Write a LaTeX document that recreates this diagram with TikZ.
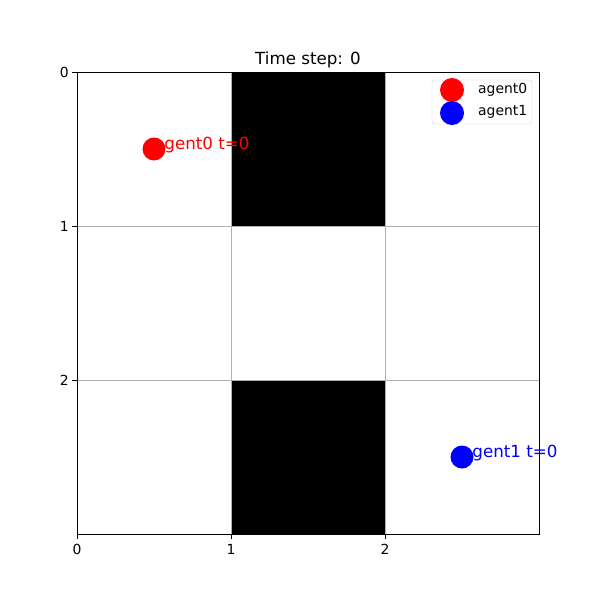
\documentclass[tikz,border=0pt]{standalone}
\usepackage{fontspec}
\setmainfont{DejaVu Sans}
\begin{document}
\begin{tikzpicture}[x=1pt,y=-1pt,
  tick/.style={font=\fontsize{13.9}{16}\selectfont},
  gridline/.style={draw=black!31,line width=0.8pt},
  agentdot/.style={circle,inner sep=0pt,minimum size=23pt},
  lbl/.style={font=\fontsize{16.7}{20}\selectfont,inner sep=0pt,anchor=base west}]
\useasboundingbox (0,0) rectangle (600,600);
\fill[white] (0,0) rectangle (600,600);
% obstacles
\fill[black] (231,72) rectangle (385,226);
\fill[black] (231,380) rectangle (385,534);
% grid
\draw[gridline] (231,72) -- (231,534);
\draw[gridline] (385,72) -- (385,534);
\draw[gridline] (77,226) -- (539,226);
\draw[gridline] (77,380) -- (539,380);
% frame
\draw[line width=0.8pt] (77,72) rectangle (539,534);
% ticks
\foreach \v/\p in {0/77,1/231,2/385}{
  \draw[line width=0.8pt] (\p,534) -- (\p,539);
  \node[tick,anchor=north] (xt\v) at (\p,541) {\v};
}
\foreach \v/\p in {0/72,1/226,2/380}{
  \draw[line width=0.8pt] (77,\p) -- (72,\p);
  \node[tick,anchor=east,inner sep=0pt] (yt\v) at (69,\p) {\v};
}
% title
\node[font=\fontsize{16.7}{20}\selectfont,anchor=base] (title) at (308,64) {Time step: 0};
% agents
\node[lbl,text=red] (t0) at (154,149) {agent0 t=0};
\node[lbl,text=blue] (t1) at (462,457) {agent1 t=0};
\node[agentdot,fill=red] (a0) at (154,149) {};
\node[agentdot,fill=blue] (a1) at (462,457) {};
% legend
\node[draw=black!20,fill=white,rounded corners=3pt,minimum width=100pt,minimum height=44pt,inner sep=0pt] (legend) at (482,102) {};
\node[agentdot,fill=red,minimum size=24pt] (l0) at (452,90) {};
\node[agentdot,fill=blue,minimum size=24pt] (l1) at (452,113) {};
\node[tick,anchor=west,inner sep=0pt] (lt0) at (478,90) {agent0};
\node[tick,anchor=west,inner sep=0pt] (lt1) at (478,112) {agent1};
\end{tikzpicture}
\end{document}
